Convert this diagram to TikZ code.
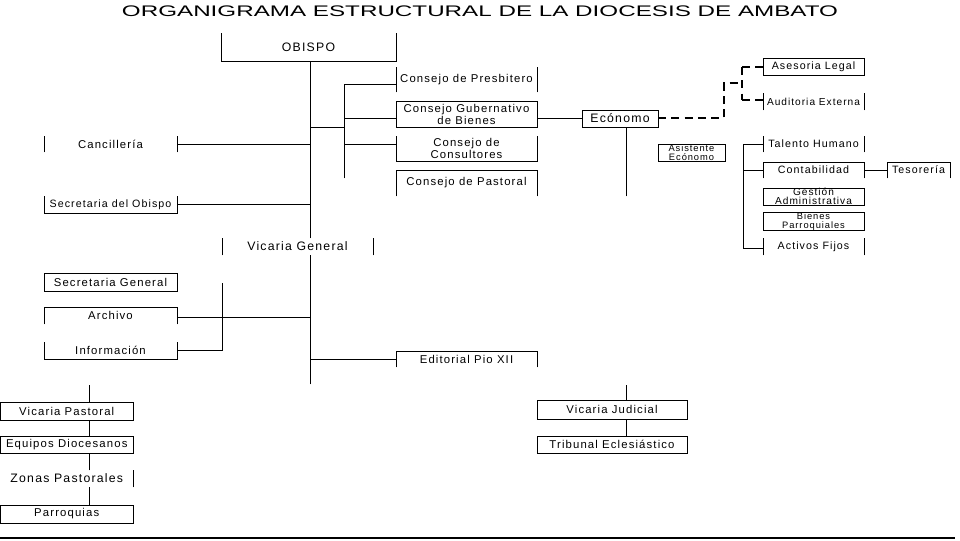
\documentclass[tikz,border=0pt]{standalone}
\usepackage{fontspec}
\setmainfont{Liberation Sans}
\newfontfamily\lab{Liberation Sans}[LetterSpace=10]
% \mkbox[options]{x1}{y1}{x2}{y2}{name}{text}  (pixel coordinates)
\newcommand\mkbox[7][]{%
  \node[bx,#1, minimum width={(#4-#2)*0.75pt}, minimum height={(#5-#3)*0.75pt}]
    (#6) at ({(#2+#4)/2},{(#3+#5)/2}) {#7};}
\begin{document}
\begin{tikzpicture}[x=0.75pt,y=-0.75pt,
  bx/.style={inner sep=0pt, outer sep=0pt, align=center, font=\lab\fontsize{8.5}{7.8}\selectfont},
  big/.style={font=\lab\fontsize{9.2}{9}\selectfont},
  mid/.style={font=\lab\fontsize{8}{8}\selectfont},
  sm/.style={font=\lab\fontsize{7}{6.6}\selectfont},
  ln/.style={line width=0.65pt, line cap=rect},
  dl/.style={line width=1.5pt, dash pattern=on 6pt off 4pt}]
\useasboundingbox (0,0) rectangle (960,540);

% title
\node[anchor=base, inner sep=0pt] (title) at (480,16)
  {\resizebox{537pt}{\height}{\fontsize{11.5}{12}\selectfont ORGANIGRAMA ESTRUCTURAL DE LA DIOCESIS DE AMBATO}};

% ---------- nodes ----------
\mkbox[big]{221}{33}{396}{61}{ob}{OBISPO}
\mkbox{396}{67}{537}{92}{cp}{Consejo de Presbitero}
\mkbox{396}{101}{537}{127}{cg}{Consejo Gubernativo\\de Bienes}
\mkbox{396}{136}{537}{161}{cc}{Consejo de\\Consultores}
\mkbox{396}{170}{537}{196}{cpa}{Consejo de Pastoral}
\mkbox[big]{582}{110}{658}{127}{ec}{Ecónomo}
\mkbox{44}{136}{177}{152}{can}{Cancillería}
\mkbox[mid]{44}{196}{177}{213}{so}{Secretaria del Obispo}
\mkbox[big]{222}{238}{373}{255}{vg}{Vicaria General}
\mkbox{44}{273}{177}{291}{sg}{Secretaria General}
\mkbox{44}{307}{177}{324}{ar}{Archivo}
\mkbox{44}{342}{177}{359}{inf}{Información}
\mkbox{396}{351}{537}{367}{ed}{Editorial Pio XII}
\mkbox{537}{400}{687}{419}{vj}{Vicaria Judicial}
\mkbox{537}{436}{687}{453}{te}{Tribunal Eclesiástico}
\mkbox{0.5}{402}{133}{420}{vp}{Vicaria Pastoral}
\mkbox{0.5}{436}{133}{453}{eq}{Equipos Diocesanos}
\mkbox[big]{0.5}{470}{133}{487}{zp}{Zonas Pastorales}
\mkbox{0.5}{505}{133}{523}{pa}{Parroquias}
\mkbox[mid]{763}{58}{864}{75}{al}{Asesoria Legal}
\mkbox[font=\lab\fontsize{7.6}{8}\selectfont]{763}{93}{864}{110}{au}{Auditoria Externa}
\mkbox[sm]{658}{144}{725}{161}{as}{Asistente\\Ecónomo}
\mkbox[mid]{763}{136}{864}{152}{th}{Talento Humano}
\mkbox[mid]{763}{162}{864}{178}{co}{Contabilidad}
\mkbox[mid]{887}{162}{950}{178}{ts}{Tesorería}
\mkbox[font=\lab\fontsize{7.6}{7}\selectfont]{763}{188}{864}{205}{ga}{Gestión\\Administrativa}
\mkbox[font=\lab\fontsize{7}{6.6}\selectfont]{763}{213}{864}{230}{bp}{Bienes\\Parroquiales}
\mkbox[mid]{763}{238}{864}{255}{af}{Activos Fijos}

% ---------- box outlines (as visible) ----------
\foreach \n in {cg,ec,sg,vj,te,vp,eq,pa,al,as,ga,bp}
  \draw[ln] (\n.north west) rectangle (\n.south east);
\foreach \n in {cp,can,vg,au,th,af}{
  \draw[ln] (\n.north west) -- (\n.south west);
  \draw[ln] (\n.north east) -- (\n.south east);}
\foreach \n in {ob,cc,so,inf}
  \draw[ln] (\n.north west) -- (\n.south west) -- (\n.south east) -- (\n.north east);
\foreach \n in {cpa,ar,ed,co,ts}
  \draw[ln] (\n.south west) -- (\n.north west) -- (\n.north east) -- (\n.south east);
\draw[ln] (zp.north east) -- (zp.south east);

% ---------- connectors ----------
\coordinate (tkA) at (310,61);
\coordinate (tkB) at (310,384);
\draw[ln] (tkA) -- (tkA |- vg.north);
\draw[ln] (tkA |- vg.south) -- (tkB);

% councils bracket
\coordinate (cb) at (344,84);
\draw[ln] (310,127) -- (344,127);
\draw[ln] (cb) -- (344,178);
\draw[ln] (cb) -- (cb -| cp.west);
\draw[ln] (344,118) -- (cg.west |- 344,118);
\draw[ln] (344,144) -- (cc.west |- 344,144);

% to Economo
\draw[ln] (ec.west |- 0,118) -- (cg.east |- 0,118);
\draw[ln] (626,127) -- (626,196);

% dashed to advisers
\coordinate (d1) at (724,83);
\coordinate (d2) at (742,83);
\draw[dl] (ec.east |- 0,118) -- (724,118) -- (d1) -- (d2);
\draw[dl] (742,67) -- (742,100);
\draw[dl] (742,67) -- (al.west |- 0,67);
\draw[dl] (742,100) -- (au.west |- 0,100);

% left staff
\draw[ln] (can.east |- 0,144) -- (310,144);
\draw[ln] (so.east |- 0,204) -- (310,204);
\draw[ln] (ar.east |- 0,317) -- (310,317);
\draw[ln] (222,283) -- (222,350) -- (inf.east |- 0,350);
\draw[ln] (310,359) -- (ed.west |- 0,359);

% judicial
\draw[ln] (626,385) -- (626,400);
\draw[ln] (626,419) -- (626,436);

% pastoral
\draw[ln] (89,385) -- (89,402);
\draw[ln] (89,420) -- (89,436);
\draw[ln] (89,453) -- (89,470);
\draw[ln] (89,487) -- (89,505);

% economo departments
\draw[ln] (743,144) -- (743,248);
\draw[ln] (743,144) -- (th.west |- 0,144);
\draw[ln] (743,170) -- (co.west |- 0,170);
\draw[ln] (743,248) -- (af.west |- 0,248);
\draw[ln] (co.east |- 0,170) -- (ts.west |- 0,170);

% bottom rule
\draw[line width=1.2pt] (0,538) -- (955,538);
\end{tikzpicture}
\end{document}
